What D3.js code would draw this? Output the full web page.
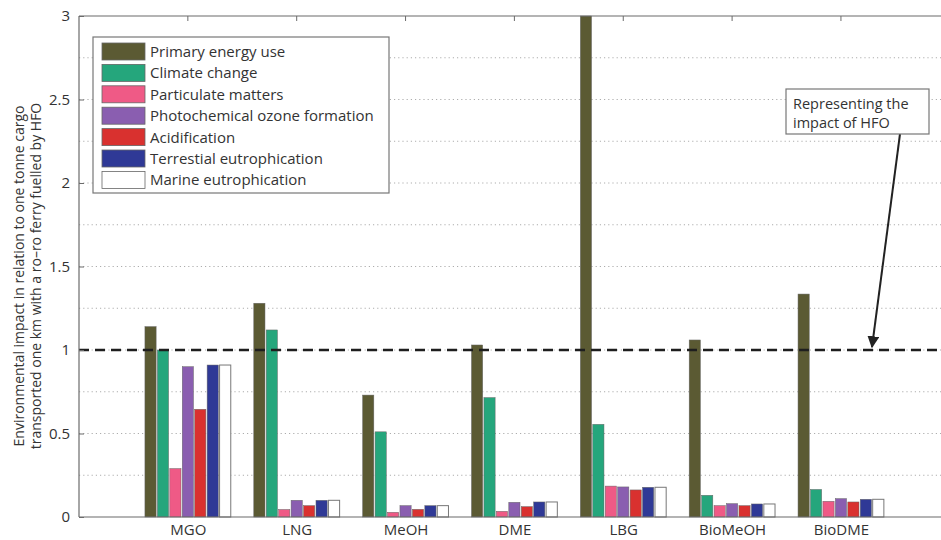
<!DOCTYPE html>
<html>
<head>
<meta charset="utf-8">
<script src="https://cdn.jsdelivr.net/npm/d3@7"></script>
<style>
  html, body { margin: 0; padding: 0; background: #fff; }
  svg { display: block; }
  text { font-family: "Open Sans", "DejaVu Sans", sans-serif; fill: #333; }
</style>
</head>
<body>
<svg id="chart" width="941" height="540"></svg>
<script>
// Fuel options compared against a ro-ro ferry running on HFO
const fuels = ["MGO", "LNG", "MeOH", "DME", "LBG", "BioMeOH", "BioDME"];

// Impact categories (one bar per category within each fuel group)
const impacts = [
  "Primary energy use",
  "Climate change",
  "Particulate matters",
  "Photochemical ozone formation",
  "Acidification",
  "Terrestial eutrophication",
  "Marine eutrophication"
];

// Relative impact per fuel, HFO = 1
const primaryEnergy  = [1.14, 1.28, 0.73, 1.03, 3.00, 1.06, 1.335];
const climateChange  = [1.00, 1.12, 0.51, 0.715, 0.555, 0.13, 0.165];
const particulates   = [0.29, 0.045, 0.028, 0.034, 0.185, 0.068, 0.094];
const photochemical  = [0.90, 0.10, 0.068, 0.088, 0.18, 0.08, 0.11];
const acidification  = [0.645, 0.068, 0.046, 0.062, 0.162, 0.068, 0.09];
const terrestrial    = [0.91, 0.10, 0.068, 0.09, 0.178, 0.078, 0.106];
const marine         = [0.91, 0.10, 0.068, 0.09, 0.178, 0.078, 0.106];

const seriesValues = [primaryEnergy, climateChange, particulates, photochemical,
                      acidification, terrestrial, marine];

const colors = ["#5b5a33", "#25a67c", "#ef5a86", "#8a5eb0", "#d9312f", "#2f3996", "#ffffff"];

const yTicks = [0, 0.5, 1, 1.5, 2, 2.5, 3];
const yTickLabels = ["0", "0.5", "1", "1.5", "2", "2.5", "3"];
const gridSteps = [0.25, 0.5, 0.75, 1, 1.25, 1.5, 1.75, 2, 2.25, 2.5, 2.75];
const hfoReference = 1;

const svg = d3.select("#chart");

// Axes box
const plotLeft = 79, plotTop = 16, plotBottom = 517;
const x = d3.scaleLinear().domain([0, 8]).range([plotLeft, plotLeft + 8 * 108.85]);
const y = d3.scaleLinear().domain([0, 3]).range([plotBottom, plotTop]);
const plotRight = x(8);

// Position of each bar inside its group (in x-units)
const inner = d3.scaleBand().domain(d3.range(impacts.length)).range([-0.4, 0.4]).paddingInner(0.1).paddingOuter(0.05);

// Dotted grid
svg.append("g").selectAll("line").data(gridSteps).join("line")
  .attr("x1", plotLeft).attr("x2", plotRight)
  .attr("y1", d => y(d)).attr("y2", d => y(d))
  .attr("stroke", "#adadad").attr("stroke-width", 1)
  .attr("stroke-dasharray", "1.2,3");

// Bars
const groups = svg.append("g").selectAll("g").data(fuels).join("g");
groups.selectAll("rect")
  .data((f, i) => seriesValues.map((vals, s) => ({ s, pos: i + 1, v: vals[i] })))
  .join("rect")
  .attr("x", d => x(d.pos + inner(d.s)))
  .attr("width", d => x(d.pos + inner(d.s) + inner.bandwidth()) - x(d.pos + inner(d.s)))
  .attr("y", d => y(d.v))
  .attr("height", d => y(0) - y(d.v))
  .attr("fill", d => colors[d.s])
  .attr("stroke", d => d.s === 6 ? "#777" : "#666")
  .attr("stroke-width", d => d.s === 6 ? 1 : 0.5);

// HFO reference line
svg.append("line")
  .attr("x1", plotLeft).attr("x2", plotRight)
  .attr("y1", y(hfoReference)).attr("y2", y(hfoReference))
  .attr("stroke", "#1e1e1e").attr("stroke-width", 2.6)
  .attr("stroke-dasharray", "10,6");

// Frame: left, top and bottom edges
const frame = svg.append("g").attr("stroke", "#6b6b6b").attr("stroke-width", 1.2).attr("fill", "none");
frame.append("line").attr("x1", plotLeft).attr("x2", plotLeft).attr("y1", plotTop).attr("y2", plotBottom);
frame.append("line").attr("x1", plotLeft).attr("x2", plotRight).attr("y1", plotTop).attr("y2", plotTop);
frame.append("line").attr("x1", plotLeft).attr("x2", plotRight).attr("y1", plotBottom).attr("y2", plotBottom);

// Y axis (ticks point inward)
const yAxis = d3.axisLeft(y).tickValues(yTicks).tickFormat((d, i) => yTickLabels[i]).tickSizeInner(-5).tickSizeOuter(0).tickPadding(9);
const gy = svg.append("g").attr("transform", `translate(${plotLeft},0)`).call(yAxis);
gy.select(".domain").remove();
gy.selectAll(".tick line").attr("stroke", "#6b6b6b");
gy.selectAll(".tick text").attr("font-size", 15).attr("fill", "#333")
  .attr("font-family", "'Open Sans', sans-serif");

// X axis labels
const xAxis = d3.axisBottom(x).tickValues(d3.range(1, fuels.length + 1)).tickFormat(d => fuels[d - 1]).tickSizeInner(0).tickSizeOuter(0).tickPadding(7);
const gx = svg.append("g").attr("transform", `translate(0,${plotBottom})`).call(xAxis);
gx.select(".domain").remove();
gx.selectAll(".tick text").attr("font-size", 15).attr("fill", "#333")
  .attr("font-family", "'Open Sans', sans-serif");

// Top-edge ticks at the category positions
svg.append("g").selectAll("line").data(d3.range(1, fuels.length + 1)).join("line")
  .attr("x1", d => x(d)).attr("x2", d => x(d))
  .attr("y1", plotTop).attr("y2", plotTop + 5)
  .attr("stroke", "#6b6b6b").attr("stroke-width", 1);

// Y axis title
const yTitle = svg.append("text")
  .attr("transform", "translate(24,276) rotate(-90)")
  .attr("text-anchor", "middle")
  .attr("font-size", 14).attr("fill", "#444");
yTitle.append("tspan").attr("x", 0).attr("dy", 0).text("Environmental impact in relation to one tonne cargo");
yTitle.append("tspan").attr("x", 0).attr("dy", 17).text("transported one km with a ro\u2013ro ferry fuelled by HFO");

// Legend
const legend = svg.append("g");
legend.append("rect").attr("x", 93).attr("y", 37).attr("width", 296).attr("height", 156)
  .attr("fill", "#fff").attr("stroke", "#777").attr("stroke-width", 1.2);
const rowPitch = 21.4;
const li = legend.selectAll("g.item").data(impacts).join("g").attr("class", "item")
  .attr("transform", (d, i) => `translate(102,${43 + i * rowPitch})`);
li.append("rect").attr("width", 43).attr("height", 17)
  .attr("fill", (d, i) => colors[i]).attr("stroke", "#666").attr("stroke-width", 0.8);
li.append("text").attr("x", 48).attr("y", 14).attr("font-size", 15).attr("fill", "#333")
  .text(d => d);

// Annotation box with arrow pointing at the HFO line
const defs = svg.append("defs");
defs.append("marker").attr("id", "arrow").attr("viewBox", "0 0 10 10")
  .attr("refX", 9).attr("refY", 5).attr("markerWidth", 6).attr("markerHeight", 6)
  .attr("orient", "auto-start-reverse")
  .append("path").attr("d", "M0,0 L10,5 L0,10 z").attr("fill", "#222");

svg.append("line")
  .attr("x1", 900).attr("y1", 134)
  .attr("x2", 872).attr("y2", y(hfoReference) - 3)
  .attr("stroke", "#222").attr("stroke-width", 2)
  .attr("marker-end", "url(#arrow)");

svg.append("rect").attr("x", 786).attr("y", 89).attr("width", 143).attr("height", 45)
  .attr("fill", "#fff").attr("stroke", "#777").attr("stroke-width", 1.2);
const note = svg.append("text").attr("x", 793).attr("y", 109).attr("font-size", 14.5).attr("fill", "#333");
note.append("tspan").attr("x", 793).text("Representing the");
note.append("tspan").attr("x", 793).attr("dy", 19).text("impact of HFO");
</script>
</body>
</html>
